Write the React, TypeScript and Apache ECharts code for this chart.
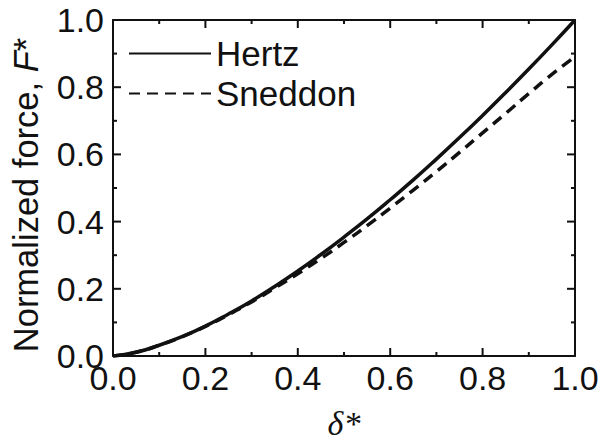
import React, { useEffect, useRef } from "react";
import * as echarts from "echarts";

const deltaValues = [0, 0.05, 0.1, 0.15, 0.2, 0.25, 0.3, 0.35, 0.4, 0.45, 0.5, 0.55, 0.6, 0.65, 0.7, 0.75, 0.8, 0.85, 0.9, 0.95, 1.0];
const hertzValues = [0, 0.011, 0.032, 0.058, 0.089, 0.125, 0.164, 0.207, 0.253, 0.302, 0.354, 0.408, 0.465, 0.524, 0.586, 0.65, 0.716, 0.784, 0.854, 0.926, 1.0];
const sneddonValues = [0, 0.011, 0.032, 0.058, 0.088, 0.123, 0.161, 0.202, 0.245, 0.29, 0.338, 0.388, 0.44, 0.494, 0.549, 0.606, 0.664, 0.722, 0.781, 0.838, 0.891];
const seriesNames = ["Hertz", "Sneddon"];
// tick positions (major = 1, minor = 0) shared by both axes, 0.0 … 1.0
const tickValues = [0, 0.1, 0.2, 0.3, 0.4, 0.5, 0.6, 0.7, 0.8, 0.9, 1.0];
const tickMajor = [1, 0, 1, 0, 1, 0, 1, 0, 1, 0, 1];

const FONT = "Liberation Sans, Arial, sans-serif";
const INK = "#111";

const mkAxisLine = () => ({ show: true, onZero: false, lineStyle: { color: INK, width: 2 } });

export default function App() {
  const ref = useRef<HTMLDivElement>(null);
  useEffect(() => {
    if (!ref.current) return;
    const chart = echarts.init(ref.current, undefined, { renderer: "svg" });
    const fmt = (v: number) => v.toFixed(1);
    const baseAxis = {
      type: "value",
      min: 0,
      max: 1,
      interval: 0.2,
      axisTick: { show: false },
      minorTick: { show: false },
      splitLine: { show: false },
    };
    chart.setOption({
      animation: false,
      backgroundColor: "#fff",
      grid: { left: 112, right: 28, top: 20, bottom: 85, containLabel: false },
      legend: {
        orient: "vertical",
        left: 123,
        top: 31,
        itemWidth: 82,
        itemHeight: 30,
        itemGap: 5,
        itemStyle: { opacity: 0 },
        textStyle: { fontFamily: FONT, fontSize: 35, color: INK },
        data: seriesNames,
      },
      xAxis: [
        {
          ...baseAxis,
          axisLine: mkAxisLine(),
          position: "bottom",
          axisLabel: { formatter: fmt, fontFamily: FONT, fontSize: 34, color: INK, margin: 5 },
          name: "δ*",
          nameLocation: "middle",
          nameGap: 50,
          nameTextStyle: { fontFamily: "Liberation Serif, Times New Roman, serif", fontStyle: "italic", fontSize: 34, color: INK },
        },
        { ...baseAxis, axisLine: mkAxisLine(), position: "top", axisLabel: { show: false } },
      ],
      yAxis: [
        {
          ...baseAxis,
          axisLine: mkAxisLine(),
          position: "left",
          axisLabel: { formatter: fmt, fontFamily: FONT, fontSize: 34, color: INK, margin: 9 },
          name: "Normalized force, {i|F}{s|*}",
          nameLocation: "middle",
          nameGap: 70,
          nameRotate: 90,
          nameTextStyle: {
            fontFamily: FONT,
            fontSize: 34.5,
            color: INK,
            padding: [0, 14, 0, 0],
            rich: {
              i: { fontFamily: FONT, fontSize: 34.5, fontStyle: "italic", color: INK },
              s: { fontFamily: FONT, fontSize: 34.5, color: INK, verticalAlign: "top" },
            },
          },
        },
        { ...baseAxis, axisLine: mkAxisLine(), position: "right", axisLabel: { show: false } },
      ],
      series: [
        {
          name: seriesNames[0],
          type: "line",
          data: deltaValues.map((d, i) => [d, hertzValues[i]]),
          smooth: true,
          symbol: "none",
          showSymbol: false,
          lineStyle: { color: INK, width: 3.5, type: "solid" },
          itemStyle: { color: INK },
          z: 3,
        },
        {
          name: seriesNames[1],
          type: "line",
          data: deltaValues.map((d, i) => [d, sneddonValues[i]]),
          smooth: true,
          symbol: "none",
          showSymbol: false,
          lineStyle: { color: INK, width: 3.5, type: [11, 7] },
          itemStyle: { color: INK },
          z: 2,
        },
        {
          name: "ticks",
          type: "custom",
          silent: true,
          clip: false,
          z: 5,
          data: tickValues.map((v, i) => [v, tickMajor[i]]),
          encode: { x: 0, y: 1 },
          renderItem: (_params: any, api: any) => {
            const v = api.value(0);
            const L = api.value(1) ? 8 : 4;
            const b = api.coord([v, 0]);
            const t = api.coord([v, 1]);
            const l = api.coord([0, v]);
            const r = api.coord([1, v]);
            const style = { stroke: INK, lineWidth: 2 };
            return {
              type: "group",
              children: [
                { type: "line", shape: { x1: b[0], y1: b[1], x2: b[0], y2: b[1] - L }, style },
                { type: "line", shape: { x1: t[0], y1: t[1], x2: t[0], y2: t[1] + L }, style },
                { type: "line", shape: { x1: l[0], y1: l[1], x2: l[0] + L, y2: l[1] }, style },
                { type: "line", shape: { x1: r[0], y1: r[1], x2: r[0] - L, y2: r[1] }, style },
              ],
            };
          },
        },
      ],
    });
    return () => chart.dispose();
  }, []);
  return <div ref={ref} style={{ width: 603, height: 445, position: "absolute", left: 0, top: 0 }} />;
}
